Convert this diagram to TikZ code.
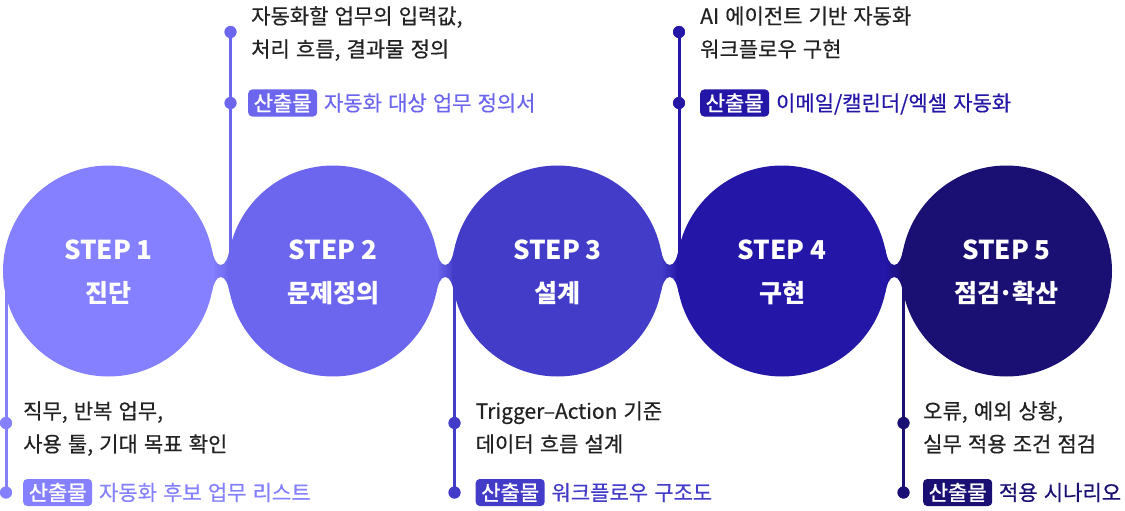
\documentclass[tikz,border=0pt]{standalone}
\usepackage{fontspec}
\setmainfont{Noto Sans CJK KR}
\newfontfamily\medfont{Noto Sans CJK KR}[FakeBold=0.5,WordSpace=1.3]
\newfontfamily\semifont{Noto Sans CJK KR}[FakeBold=1.2]
\definecolor{c1}{HTML}{8480FF}
\definecolor{c2}{HTML}{6C66EE}
\definecolor{c3}{HTML}{433CC9}
\definecolor{c4}{HTML}{2416A6}
\definecolor{c5}{HTML}{1A0F73}
\definecolor{txt}{HTML}{222222}
\begin{document}
\begin{tikzpicture}[x=1pt,y=-1pt,
  stepc/.style={circle,inner sep=0pt,minimum size=211pt},
  steptitle/.style={inner sep=0pt,text=white,font=\fontsize{26}{30}\selectfont\bfseries,text height=19pt,text depth=0pt},
  stepname/.style={inner sep=0pt,text=white,font=\fontsize{25}{30}\selectfont\bfseries,text height=20.5pt,text depth=1.75pt},
  body/.style={anchor=west,inner sep=0pt,font=\fontsize{21}{24}\medfont,text=txt,text height=17.2pt,text depth=1.5pt},
  deliv/.style={anchor=west,inner sep=0pt,font=\fontsize{21}{24}\medfont,text height=17.2pt,text depth=1.5pt},
  badge/.style={anchor=west,inner xsep=5.5pt,inner ysep=0pt,minimum height=27pt,rounded corners=4pt,font=\fontsize{21}{24}\semifont,text=white,text height=17.2pt,text depth=1.5pt},
  dotn/.style={circle,inner sep=0pt,minimum size=12pt},
  stem/.style={line width=3pt}
]
\useasboundingbox (0,0) rectangle (1125,511);

% anchor dots (positions)
\node[dotn,fill=c1] (d1a) at (6,423) {};
\node[dotn,fill=c1] (d1b) at (6,492.5) {};
\node[dotn,fill=c2] (d2a) at (230.5,32) {};
\node[dotn,fill=c2] (d2b) at (230.5,103) {};
\node[dotn,fill=c3] (d3a) at (454.5,423) {};
\node[dotn,fill=c3] (d3b) at (454.5,492.5) {};
\node[dotn,fill=c4] (d4a) at (679,32) {};
\node[dotn,fill=c4] (d4b) at (679,103) {};
\node[dotn,fill=c5] (d5a) at (903.5,423) {};
\node[dotn,fill=c5] (d5b) at (903.5,492.5) {};

% circle positions
\coordinate (p1) at (108.5,271);
\coordinate (p2) at (333,271);
\coordinate (p3) at (557.5,271);
\coordinate (p4) at (782,271);
\coordinate (p5) at (1006.5,271);

% stems
\draw[stem,c1] (d1b.center) -- (d1b.center |- p1);
\draw[stem,c2] (d2a.center) -- (d2a.center |- p2);
\draw[stem,c3] (d3b.center) -- (d3b.center |- p3);
\draw[stem,c4] (d4a.center) -- (d4a.center |- p4);
\draw[stem,c5] (d5b.center) -- (d5b.center |- p5);

% necks
\foreach \a/\ca/\cb in {108.5/c1/c2, 333/c2/c3, 557.5/c3/c4, 782/c4/c5} {
  \shade[left color=\ca, right color=\cb]
    (\a+103.2,249.1) .. controls (\a+104.9,257) and (\a+107.25,265) .. (\a+112.25,265)
    .. controls (\a+117.25,265) and (\a+119.6,257) .. (\a+121.3,249.1)
    -- (\a+121.3,292.9)
    .. controls (\a+119.6,285) and (\a+117.25,277) .. (\a+112.25,277)
    .. controls (\a+107.25,277) and (\a+104.9,285) .. (\a+103.2,292.9) -- cycle;
}

% circles
\node[stepc,fill=c1] (s1) at (p1) {};
\node[stepc,fill=c2] (s2) at (p2) {};
\node[stepc,fill=c3] (s3) at (p3) {};
\node[stepc,fill=c4] (s4) at (p4) {};
\node[stepc,fill=c5] (s5) at (p5) {};

% redraw dots on top
\foreach \d/\c in {d1a/c1,d1b/c1,d2a/c2,d2b/c2,d3a/c3,d3b/c3,d4a/c4,d4b/c4,d5a/c5,d5b/c5}
  \fill[\c] (\d.center) circle[radius=6pt];

% circle labels
\node[steptitle] (t1) at ([yshift=21pt]s1.center) {STEP 1};
\node[stepname] (n1) at ([yshift=-22pt]s1.center) {진단};
\node[steptitle] (t2) at ([yshift=21pt]s2.center) {STEP 2};
\node[stepname] (n2) at ([yshift=-22pt]s2.center) {문제정의};
\node[steptitle] (t3) at ([yshift=21pt]s3.center) {STEP 3};
\node[stepname] (n3) at ([yshift=-22pt]s3.center) {설계};
\node[steptitle] (t4) at ([yshift=21pt]s4.center) {STEP 4};
\node[stepname] (n4) at ([yshift=-22pt]s4.center) {구현};
\node[steptitle] (t5) at ([yshift=21pt]s5.center) {STEP 5};
\node[stepname] (n5) at ([yshift=-22pt]s5.center) {점검\kern-0.08em·\kern-0.08em확산};

% step 1 texts
\node[body] (a1) at (23,411) {직무, 반복 업무,};
\node[body] (a2) at (23,444) {사용 툴, 기대 목표 확인};
\node[badge,fill=c1] (b1) at (23,492.5) {산출물};
\node[deliv,text=c1] (e1) at ([xshift=6.5pt]b1.east) {자동화 후보 업무 리스트};

% step 2 texts
\node[body] (a3) at (251,16) {자동화할 업무의 입력값,};
\node[body] (a4) at (251,49) {처리 흐름, 결과물 정의};
\node[badge,fill=c2] (b2) at (248,103) {산출물};
\node[deliv,text=c2] (e2) at ([xshift=6.5pt]b2.east) {자동화 대상 업무 정의서};

% step 3 texts
\node[body] (a5) at (475.5,411) {Trigger–Action 기준};
\node[body] (a6) at (475.5,444) {데이터 흐름 설계};
\node[badge,fill=c3] (b3) at (475.5,492.5) {산출물};
\node[deliv,text=c3] (e3) at ([xshift=6.5pt]b3.east) {워크플로우 구조도};

% step 4 texts
\node[body] (a7) at (700,16) {AI 에이전트 기반 자동화};
\node[body] (a8) at (700,49) {워크플로우 구현};
\node[badge,fill=c4] (b4) at (700,103) {산출물};
\node[deliv,text=c4] (e4) at ([xshift=6.5pt]b4.east) {이메일/캘린더/엑셀 자동화};

% step 5 texts
\node[body] (a9) at (923,411) {오류, 예외 상황,};
\node[body] (a10) at (923,444) {실무 적용 조건 점검};
\node[badge,fill=c5] (b5) at (923,492.5) {산출물};
\node[deliv,text=c5] (e5) at ([xshift=6.5pt]b5.east) {적용 시나리오};
\end{tikzpicture}
\end{document}
